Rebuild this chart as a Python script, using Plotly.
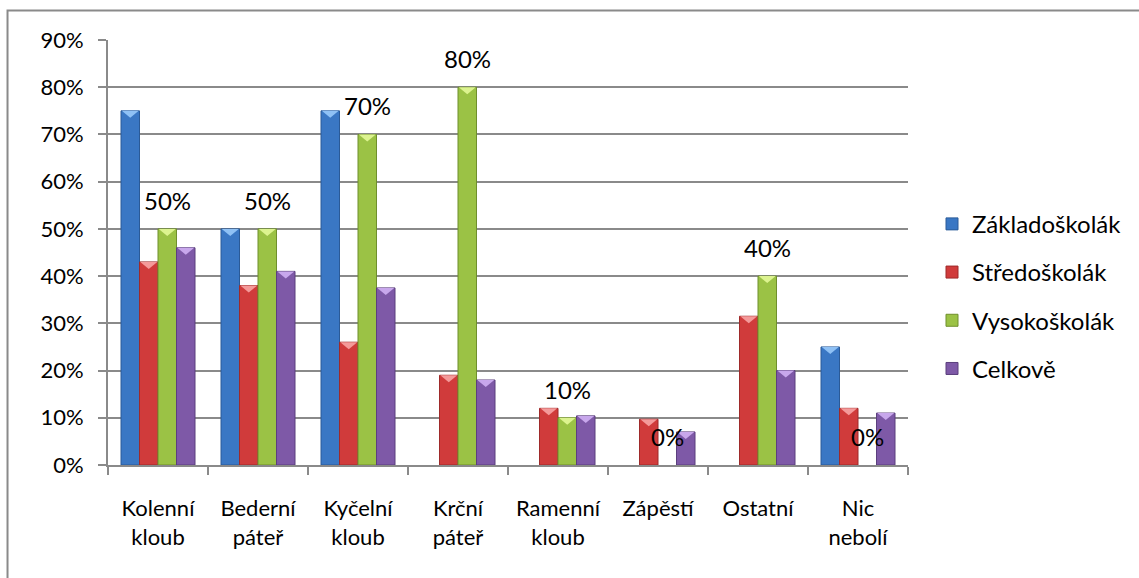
import plotly.graph_objects as go

categories = ["Kolenní<br>kloub", "Bederní<br>páteř", "Kyčelní<br>kloub", "Krční<br>páteř",
              "Ramenní<br>kloub", "Zápěstí", "Ostatní", "Nic<br>nebolí"]
series_names = ["Základoškolák", "Středoškolák", "Vysokoškolák", "Celkově"]
zakladoskolak = [75, 50, 75, 0, 0, 0, 0, 25]
stredoskolak = [43, 38, 26, 19, 12, 9.7, 31.5, 12]
vysokoskolak = [50, 50, 70, 80, 10, 0, 40, 0]
celkove = [46, 41, 37.5, 18, 10.4, 7, 20, 11]
y_ticks = [0, 10, 20, 30, 40, 50, 60, 70, 80, 90]
y_tick_text = [f"{t}%" for t in y_ticks]

values = [zakladoskolak, stredoskolak, vysokoskolak, celkove]
fills = ["#3a77c4", "#d03b3b", "#9bc245", "#7e59a7"]
edges = ["#2a5a98", "#9e2a2a", "#6f8f2c", "#5b3f7d"]
tips = ["#8fc1f5", "#f49a9a", "#dcf38f", "#c8a7ec"]
labelled = 2  # only the Vysokoškolák series carries value labels

n_series = len(series_names)
group_gap = 0.26
bar_w = (1 - group_gap) / n_series
xs = list(range(len(categories)))

fig = go.Figure()
for k, name in enumerate(series_names):
    fig.add_trace(go.Bar(
        x=xs, y=values[k], name=name, legendgroup=name,
        marker=dict(color=fills[k],
                    line=dict(color=edges[k], width=[1 if v > 0 else 0 for v in values[k]])),
        hoverinfo="skip",
    ))

shapes = []
annotations = []
for k in range(n_series):
    off = (k - (n_series - 1) / 2) * bar_w
    for i, v in enumerate(values[k]):
        if v > 0:
            # bevel tip at the top of every bar
            shapes.append(dict(
                type="path", xref="x", yref="y", xsizemode="pixel", ysizemode="pixel",
                xanchor=i + off, yanchor=v, path="M-8.5,0 L8.5,0 L0,-7 Z",
                fillcolor=tips[k], line=dict(width=0), layer="above",
            ))
        if k == labelled:
            annotations.append(dict(
                x=i + off, y=v, xref="x", yref="y", text=f"{v:g}%", showarrow=False,
                yanchor="bottom", yshift=12, font=dict(size=24, color="black"),
            ))

# outer chart frame
shapes.append(dict(type="rect", xref="paper", yref="paper",
                   x0=-0.1256, x1=1.6, y0=-0.5, y1=1.0694,
                   line=dict(color="#8a8a8a", width=2), layer="below"))

fig.update_layout(
    width=1139, height=578,
    margin=dict(l=108, r=231, t=40, b=113),
    paper_bgcolor="white", plot_bgcolor="white",
    barmode="group", bargap=group_gap, bargroupgap=0,
    font=dict(family="Lato", size=22, color="black"),
    shapes=shapes, annotations=annotations,
    legend=dict(x=1.03, xanchor="left", y=0.397, yanchor="middle",
                traceorder="grouped", tracegroupgap=14,
                font=dict(size=24, color="black"), bgcolor="rgba(0,0,0,0)"),
)
fig.update_xaxes(
    range=[-0.5, len(categories) - 0.5], tickmode="array", tickvals=xs, ticktext=categories,
    ticks="", showgrid=False, zeroline=False,
    showline=True, linecolor="#8a8a8a", linewidth=2,
    minor=dict(tickmode="array", tickvals=[i - 0.5 for i in range(len(categories) + 1)],
               ticks="outside", ticklen=8, tickwidth=2, tickcolor="#8a8a8a", showgrid=False),
    ticklabelstandoff=23, tickfont=dict(size=22),
)
fig.update_yaxes(
    range=[0, 90], tickmode="array", tickvals=y_ticks, ticktext=y_tick_text,
    showgrid=True, gridcolor="#8a8a8a", gridwidth=1.5, zeroline=False,
    showline=True, linecolor="#8a8a8a", linewidth=2,
    ticks="outside", ticklen=8, tickwidth=2, tickcolor="#8a8a8a",
    ticklabelstandoff=10, tickfont=dict(size=22),
)

fig.write_html("out.html")
